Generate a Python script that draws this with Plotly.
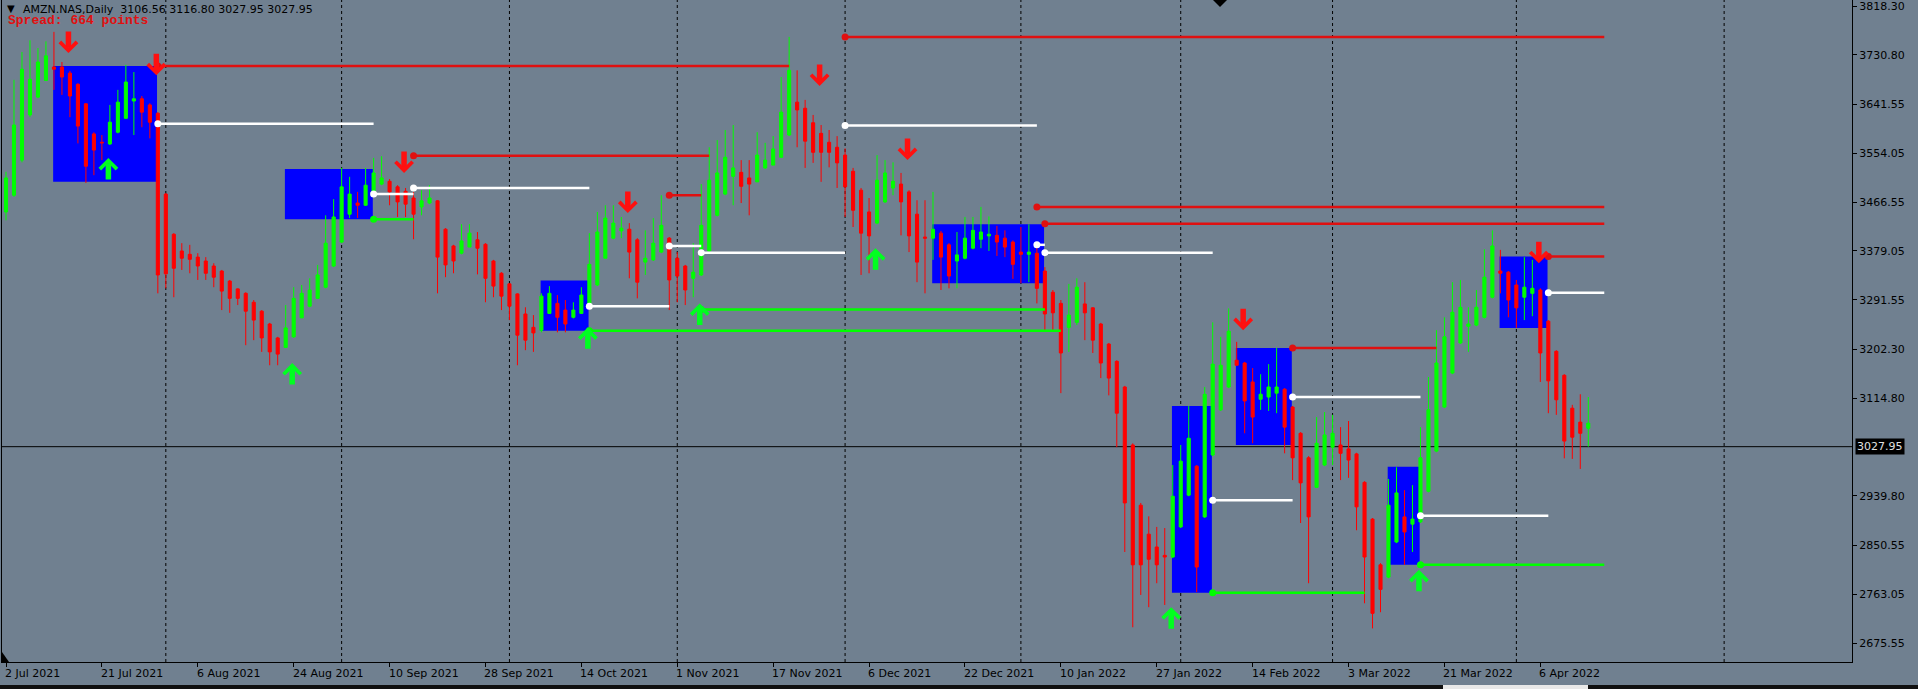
import plotly.graph_objects as go

# ---------------- data ----------------
bar_open = [3449, 3479, 3542, 3623, 3655, 3685, 3709, 3709, 3698, 3678,
            3643, 3589, 3574, 3571, 3592, 3617, 3648, 3652, 3641, 3626,
            3481, 3409, 3379, 3373, 3368, 3361, 3352, 3343, 3325, 3311,
            3303, 3287, 3271, 3248, 3223, 3206, 3225, 3259, 3280, 3294,
            3314, 3352, 3395, 3445, 3465, 3461, 3481, 3499, 3504, 3494,
            3486, 3474, 3458, 3465, 3469, 3418, 3388, 3375, 3386, 3399,
            3391, 3361, 3339, 3320, 3302, 3266, 3242, 3237, 3267, 3285,
            3273, 3260, 3267, 3282, 3318, 3366, 3402, 3415, 3418, 3399,
            3359, 3363, 3377, 3402, 3366, 3352, 3330, 3336, 3379, 3443,
            3481, 3513, 3520, 3510, 3503, 3528, 3533, 3547, 3587, 3646,
            3635, 3609, 3590, 3574, 3565, 3551, 3522, 3488, 3449, 3429,
            3467, 3492, 3499, 3485, 3445, 3404, 3402, 3411, 3390, 3361,
            3366, 3384, 3400, 3406, 3407, 3402, 3395, 3377, 3373, 3375,
            3343, 3305, 3285, 3242, 3251, 3284, 3277, 3248, 3212, 3181,
            3135, 3031, 2923, 2871, 2848, 2833, 2830, 2884, 2941, 2993,
            2902, 3013, 3094, 3135, 3183, 3178, 3144, 3113, 3117, 3124,
            3131, 3099, 3052, 3008, 2955, 2995, 3027, 3031, 3024, 3015,
            2964, 2898, 2816, 2794, 2857, 2902, 2889, 2893, 2948, 3020,
            3099, 3160, 3214, 3244, 3246, 3260, 3296, 3343, 3341, 3318,
            3296, 3303, 3309, 3253, 3199, 3156, 3097, 3072, 3061]
bar_high = [3521, 3686, 3736, 3757, 3743, 3755, 3772, 3718, 3702, 3680,
            3644, 3592, 3587, 3641, 3668, 3713, 3700, 3657, 3644, 3628,
            3483, 3411, 3393, 3390, 3375, 3368, 3357, 3345, 3327, 3312,
            3305, 3291, 3273, 3250, 3225, 3282, 3314, 3318, 3330, 3354,
            3443, 3472, 3528, 3512, 3485, 3528, 3546, 3549, 3508, 3497,
            3492, 3485, 3488, 3497, 3470, 3420, 3390, 3427, 3427, 3413,
            3393, 3363, 3341, 3321, 3303, 3278, 3264, 3303, 3316, 3300,
            3291, 3287, 3314, 3411, 3449, 3461, 3461, 3440, 3429, 3402,
            3416, 3438, 3479, 3404, 3377, 3354, 3393, 3499, 3565, 3578,
            3596, 3605, 3542, 3542, 3592, 3573, 3585, 3691, 3763, 3703,
            3650, 3623, 3605, 3596, 3585, 3563, 3528, 3492, 3474, 3551,
            3542, 3538, 3519, 3488, 3470, 3470, 3485, 3415, 3393, 3413,
            3440, 3440, 3458, 3441, 3424, 3416, 3398, 3422, 3427, 3390,
            3350, 3309, 3291, 3320, 3330, 3323, 3278, 3250, 3214, 3183,
            3137, 3034, 2927, 2903, 2884, 2882, 2995, 3031, 3101, 2995,
            3135, 3251, 3225, 3276, 3216, 3180, 3169, 3158, 3176, 3205,
            3133, 3101, 3054, 3011, 3081, 3090, 3085, 3063, 3074, 3017,
            2966, 2900, 2819, 2970, 2991, 2950, 2959, 3063, 3153, 3237,
            3260, 3323, 3327, 3278, 3309, 3382, 3416, 3381, 3343, 3327,
            3368, 3363, 3312, 3255, 3201, 3158, 3103, 3122, 3117]
bar_low = [3434, 3476, 3538, 3619, 3653, 3684, 3668, 3659, 3619, 3572,
           3501, 3515, 3542, 3569, 3590, 3617, 3587, 3601, 3581, 3303,
           3312, 3296, 3345, 3339, 3327, 3327, 3314, 3273, 3268, 3282,
           3210, 3219, 3198, 3174, 3174, 3205, 3223, 3259, 3278, 3293,
           3312, 3350, 3393, 3438, 3438, 3460, 3479, 3497, 3461, 3440,
           3440, 3400, 3443, 3463, 3303, 3332, 3339, 3373, 3386, 3337,
           3287, 3296, 3273, 3255, 3174, 3201, 3198, 3233, 3266, 3233,
           3233, 3258, 3267, 3278, 3316, 3366, 3400, 3402, 3330, 3294,
           3336, 3361, 3375, 3273, 3287, 3282, 3296, 3334, 3377, 3441,
           3479, 3461, 3465, 3443, 3503, 3526, 3533, 3547, 3585, 3565,
           3528, 3537, 3503, 3529, 3492, 3440, 3422, 3336, 3339, 3427,
           3465, 3479, 3407, 3377, 3323, 3303, 3363, 3309, 3312, 3312,
           3364, 3382, 3384, 3379, 3370, 3368, 3329, 3321, 3323, 3285,
           3237, 3237, 3124, 3198, 3246, 3219, 3196, 3151, 3120, 3027,
           2839, 2704, 2762, 2740, 2783, 2744, 2828, 2882, 2939, 2767,
           2900, 3011, 3092, 3133, 3174, 3052, 3034, 3094, 3092, 3088,
           3016, 2968, 2891, 2783, 2954, 2993, 2995, 2968, 2972, 2878,
           2747, 2702, 2731, 2792, 2855, 2816, 2839, 2891, 2946, 3018,
           3097, 3158, 3212, 3198, 3244, 3258, 3294, 3303, 3260, 3241,
           3255, 3262, 3144, 3088, 3085, 3007, 3006, 2988, 3028]
bar_close = [3510, 3605, 3705, 3687, 3718, 3729, 3705, 3691, 3657, 3603,
             3531, 3560, 3573, 3610, 3646, 3682, 3652, 3628, 3610, 3336,
             3338, 3348, 3366, 3364, 3352, 3339, 3332, 3307, 3294, 3294,
             3271, 3255, 3223, 3198, 3194, 3241, 3294, 3303, 3309, 3336,
             3393, 3440, 3494, 3481, 3461, 3497, 3519, 3510, 3485, 3467,
             3463, 3445, 3469, 3474, 3368, 3354, 3361, 3397, 3411, 3384,
             3330, 3316, 3298, 3280, 3228, 3219, 3232, 3298, 3303, 3260,
             3248, 3273, 3300, 3355, 3413, 3438, 3429, 3420, 3377, 3323,
             3366, 3393, 3425, 3327, 3334, 3309, 3341, 3425, 3506, 3519,
             3547, 3528, 3495, 3499, 3551, 3542, 3562, 3628, 3703, 3632,
             3576, 3556, 3556, 3556, 3537, 3494, 3452, 3411, 3406, 3506,
             3519, 3504, 3467, 3406, 3359, 3402, 3418, 3368, 3334, 3372,
             3402, 3416, 3413, 3409, 3395, 3386, 3355, 3373, 3377, 3312,
             3266, 3268, 3196, 3264, 3314, 3268, 3219, 3178, 3151, 3088,
             2927, 2816, 2816, 2826, 2816, 2830, 2939, 3002, 3043, 2812,
             3122, 3176, 3174, 3235, 3174, 3110, 3081, 3122, 3135, 3135,
             3063, 3008, 2963, 2902, 3034, 3049, 3052, 3016, 3004, 2920,
             2830, 2729, 2772, 2923, 2945, 2875, 2898, 3008, 3094, 3178,
             3225, 3269, 3278, 3248, 3278, 3332, 3388, 3339, 3291, 3277,
             3314, 3312, 3196, 3146, 3112, 3038, 3045, 3052, 3070]
bar_index = list(range(len(bar_open)))

date_tick_bars = [0, 12, 24, 36, 48, 60, 72, 84, 96, 108, 120, 132, 144, 156, 168, 180, 192]
date_tick_labels = ["2 Jul 2021", "21 Jul 2021", "6 Aug 2021", "24 Aug 2021", "10 Sep 2021",
                    "28 Sep 2021", "14 Oct 2021", "1 Nov 2021", "17 Nov 2021", "6 Dec 2021",
                    "22 Dec 2021", "10 Jan 2022", "27 Jan 2022", "14 Feb 2022", "3 Mar 2022",
                    "21 Mar 2022", "6 Apr 2022"]
month_separator_bars = [20, 42, 63, 84, 105, 127, 147, 166, 189, 215]

price_ticks = [3818.30, 3730.80, 3641.55, 3554.05, 3466.55, 3379.05, 3291.55,
               3202.30, 3114.80, 2939.80, 2850.55, 2763.05, 2675.55]
current_price = 3027.95
price_range = [2641.7, 3829.2]

zone_start = [6, 35, 67, 116, 146, 154, 173, 187]
zone_end = [19, 46, 73, 130, 151, 161, 177, 193]
zone_top = [3711, 3526, 3326, 3427, 3101, 3205, 2992, 3369]
zone_bottom = [3503, 3436, 3236, 3321, 2766, 3031, 2816, 3241]

red_start = [19, 105, 51, 83, 129, 130, 161, 193]
red_end = [98, 200, 88, 87, 200, 200, 179, 200]
red_price = [3711, 3763, 3550, 3479, 3458, 3428, 3205, 3369]

white_start = [19, 46, 51, 73, 83, 87, 105, 129, 130, 151, 161, 177, 193]
white_end = [46, 51, 73, 83, 87, 105, 129, 130, 151, 161, 177, 193, 200]
white_price = [3607, 3481, 3492, 3280, 3388, 3376, 3604, 3390, 3376, 2932, 3117, 2904, 3304]

green_start = [46, 73, 87, 151, 177]
green_end = [51, 132, 130, 170, 200]
green_price = [3436, 3236, 3274, 2766, 2816]

down_arrow_bar = [8, 19, 50, 78, 102, 113, 155, 192]
down_arrow_price = [3734, 3694, 3519, 3447, 3675, 3542, 3237, 3357]
up_arrow_bar = [13, 36, 73, 87, 109, 146, 177]
up_arrow_price = [3546, 3178, 3242, 3285, 3384, 2740, 2807]

header_text = "AMZN.NAS,Daily  3106.56 3116.80 3027.95 3027.95"
spread_text = "Spread: 664 points"

# ---------------- styling ----------------
BG = "#708090"
BULL = "#00FF00"
BEAR = "#FF0000"
ZONE = "#0000FF"
FONT = "DejaVu Sans"
W, H = 1918, 689
ML, MR, MT, MB = 2, 66, 0, 27

fig = go.Figure()

fig.add_trace(go.Candlestick(
    x=bar_index, open=bar_open, high=bar_high, low=bar_low, close=bar_close,
    increasing=dict(line=dict(color=BULL, width=1), fillcolor=BULL),
    decreasing=dict(line=dict(color=BEAR, width=1), fillcolor=BEAR),
    whiskerwidth=0, hoverinfo="skip", showlegend=False,
))


def seg_trace(starts, ends, prices, color):
    xs, ys = [], []
    for s, e, p in zip(starts, ends, prices):
        xs += [s, e, None]
        ys += [p, p, None]
    fig.add_trace(go.Scatter(x=xs, y=ys, mode="lines", line=dict(color=color, width=2.5),
                             hoverinfo="skip", showlegend=False))
    fig.add_trace(go.Scatter(x=starts, y=prices, mode="markers",
                             marker=dict(color=color, size=7, line=dict(width=0)),
                             hoverinfo="skip", showlegend=False))


seg_trace(green_start, green_end, green_price, "#00FF00")
seg_trace(red_start, red_end, red_price, "#E01010")
seg_trace(white_start, white_end, white_price, "#FFFFFF")

shapes = []
for s, e, t, b in zip(zone_start, zone_end, zone_top, zone_bottom):
    shapes.append(dict(type="rect", xref="x", yref="y", x0=s - 0.1, x1=e - 0.1, y0=b, y1=t,
                       fillcolor=ZONE, line=dict(width=0), layer="below"))
for m in month_separator_bars:
    shapes.append(dict(type="line", xref="x", yref="paper", x0=m, x1=m, y0=0, y1=1,
                       line=dict(color="black", width=1, dash="3px,3px"), layer="below"))
shapes.append(dict(type="line", xref="paper", yref="y", x0=0, x1=1, y0=current_price, y1=current_price,
                   line=dict(color="black", width=1), layer="below"))
# window chrome: shift marker at top, tab strip at the bottom
plot_w = W - ML - MR
plot_h = H - MT - MB
def px(xp):
    return (xp - ML) / plot_w
def py(yp):
    return (plot_h - yp) / plot_h
shapes.append(dict(type="path", xref="paper", yref="paper",
                   path=f"M{px(1213)},{py(0)} L{px(1227)},{py(0)} L{px(1220)},{py(7)} Z",
                   fillcolor="black", line=dict(width=0)))
shapes.append(dict(type="path", xref="paper", yref="paper",
                   path=f"M{px(2)},{py(652)} L{px(2)},{py(662)} L{px(9)},{py(662)} Z",
                   fillcolor="black", line=dict(width=0)))
shapes.append(dict(type="rect", xref="paper", yref="paper", x0=px(0), x1=px(W), y0=py(689), y1=py(685),
                   fillcolor="#101010", line=dict(width=0)))
shapes.append(dict(type="rect", xref="paper", yref="paper", x0=px(1443), x1=px(1588), y0=py(689), y1=py(685),
                   fillcolor="#E8E8E8", line=dict(width=0)))

annotations = []
for b, p in zip(down_arrow_bar, down_arrow_price):
    annotations.append(dict(x=b, y=p, xref="x", yref="y", text="", showarrow=True,
                            ax=0, ay=-23, arrowhead=4, arrowsize=0.6, arrowwidth=5.5,
                            arrowcolor="#FF1010", standoff=0, xshift=-1.5))
for b, p in zip(up_arrow_bar, up_arrow_price):
    annotations.append(dict(x=b, y=p, xref="x", yref="y", text="", showarrow=True,
                            ax=0, ay=23, arrowhead=4, arrowsize=0.6, arrowwidth=5.5,
                            arrowcolor="#00FF20", standoff=0, xshift=-1.5))
for b, lab in zip(date_tick_bars, date_tick_labels):
    annotations.append(dict(x=b, y=0, xref="x", yref="paper", text=lab, showarrow=False,
                            xanchor="left", yanchor="top", xshift=-3, yshift=-3,
                            font=dict(family=FONT, size=11, color="black")))
annotations.append(dict(x=1, y=current_price, xref="paper", yref="y", text=f"{current_price:.2f}",
                        showarrow=False, xanchor="left", yanchor="middle", xshift=3,
                        bgcolor="black", borderpad=1,
                        font=dict(family=FONT, size=11, color="#E0E0E0")))
annotations.append(dict(x=0, y=1, xref="paper", yref="paper", text="\u25BC", showarrow=False,
                        xanchor="left", yanchor="top", xshift=3, yshift=-1,
                        font=dict(family=FONT, size=10, color="black")))
annotations.append(dict(x=0, y=1, xref="paper", yref="paper", text=header_text, showarrow=False,
                        xanchor="left", yanchor="top", xshift=19, yshift=-1,
                        font=dict(family=FONT, size=11, color="black")))
annotations.append(dict(x=0, y=1, xref="paper", yref="paper", text=f"<b>{spread_text}</b>", showarrow=False,
                        xanchor="left", yanchor="top", xshift=4, yshift=-11,
                        font=dict(family="Liberation Mono", size=13, color="#E01010")))

fig.update_layout(
    width=W, height=H,
    margin=dict(l=ML, r=MR, t=MT, b=MB),
    paper_bgcolor=BG, plot_bgcolor=BG,
    showlegend=False,
    boxgap=0.45,
    shapes=shapes,
    annotations=annotations,
    xaxis=dict(range=[-0.5, 231], showgrid=False, zeroline=False, rangeslider=dict(visible=False),
               showline=True, linecolor="black", linewidth=1,
               tickmode="array", tickvals=date_tick_bars, ticks="outside", ticklen=4,
               tickcolor="black", showticklabels=False),
    yaxis=dict(range=price_range, side="right", showgrid=False, zeroline=False,
               showline=True, mirror=True, linecolor="black", linewidth=1,
               tickmode="array", tickvals=price_ticks, ticktext=[f"{v:.2f}" for v in price_ticks],
               ticks="outside", ticklen=4, tickcolor="black", ticklabeloverflow="allow",
               tickfont=dict(family=FONT, size=11, color="black")),
)

fig.write_html("out.html", config={"displayModeBar": False},
               post_script="document.body.style.margin='0';document.body.style.overflow='hidden';")
